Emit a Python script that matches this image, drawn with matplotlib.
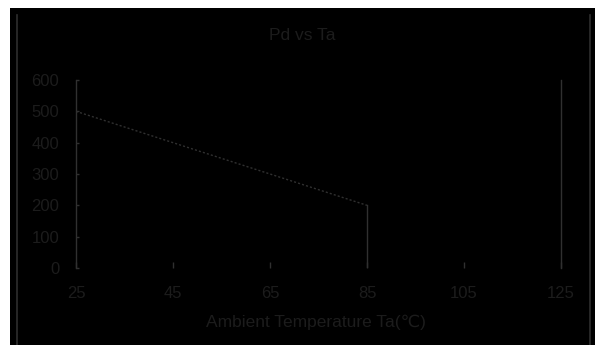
import matplotlib
matplotlib.use("Agg")
import matplotlib.pyplot as plt
from matplotlib.patches import Rectangle

# Power dissipation derating curve
ambient_temp = [25, 85, 85]
power_dissipation = [500, 200, 0]
x_ticks = [25, 45, 65, 85, 105, 125]
y_ticks = [0, 100, 200, 300, 400, 500, 600]

text_color = "#1c1c1c"
line_color = "#303030"
frame_color = "#2e2e2e"

plt.rcParams["font.family"] = ["Liberation Sans", "DejaVu Sans"]

fig = plt.figure(figsize=(5.95, 3.45), dpi=100, facecolor="white")

# dark chart background with side frame lines
fig.patches.append(Rectangle((10 / 595, 0), 1 - 10 / 595, 1 - 8 / 345,
                             transform=fig.transFigure, facecolor="black",
                             edgecolor="none", zorder=-2))
for xf in (17 / 595, 590 / 595):
    fig.lines.append(plt.Line2D([xf, xf], [0, 1 - 15 / 345],
                                transform=fig.transFigure, color=frame_color,
                                linewidth=1.2, zorder=-1))

ax = fig.add_axes([76 / 595, 1 - 268 / 345, 485 / 595, 188 / 345])
ax.set_facecolor("none")
ax.set_zorder(1)

ax.plot(ambient_temp[:2], power_dissipation[:2], color=line_color,
        linewidth=1.0, linestyle=(0, (1.5, 1.5)))
ax.plot(ambient_temp[1:], power_dissipation[1:], color=line_color,
        linewidth=1.0)

ax.set_xlim(25, 125)
ax.set_ylim(0, 600)
ax.set_xticks(x_ticks)
ax.set_yticks(y_ticks)

for side in ("top", "bottom"):
    ax.spines[side].set_visible(False)
for side in ("left", "right"):
    ax.spines[side].set_color(line_color)
    ax.spines[side].set_linewidth(1.0)

ax.tick_params(axis="x", direction="in", length=4.5, width=1.0,
               color=line_color, labelcolor=text_color, labelsize=12, pad=13)
ax.tick_params(axis="y", direction="in", length=2, width=1.0,
               color=line_color, labelcolor=text_color, labelsize=12, pad=12)

fig.text(302 / 595, 1 - 35 / 345, "Pd vs Ta", ha="center", va="center",
         color=text_color, fontsize=12.5, zorder=2)
fig.text(316 / 595, 1 - 322 / 345, "Ambient Temperature Ta(℃)", ha="center",
         va="center", color=text_color, fontsize=12.5, zorder=2)

fig.savefig("out.png", dpi=100, facecolor="white")
